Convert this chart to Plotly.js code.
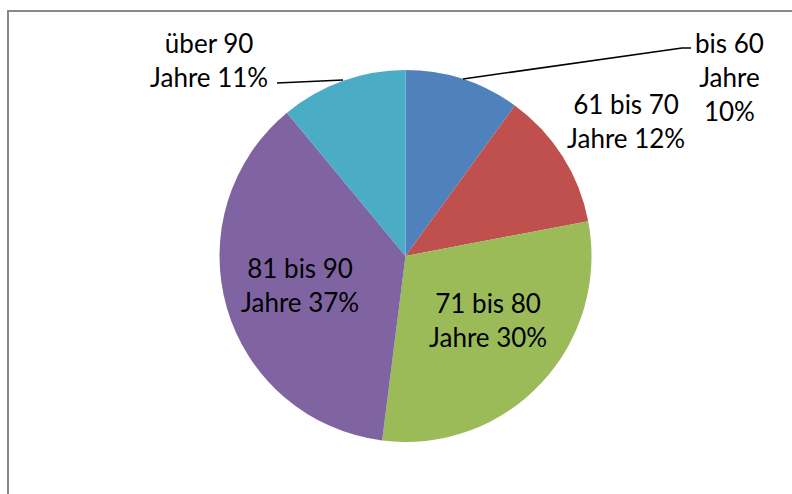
<!DOCTYPE html>
<html>
<head>
<meta charset="utf-8">
<script src="https://cdn.plot.ly/plotly-3.0.1.min.js"></script>
<style>html,body{margin:0;padding:0;background:#fff;}#chart{width:792px;height:494px;}</style>
</head>
<body>
<div id="chart"></div>
<script>
// Data
var ageGroups = ["bis 60", "61 bis 70", "71 bis 80", "81 bis 90", "über 90"];
var shares = [10, 12, 30, 37, 11];
var sliceColors = ["#4F81BD", "#C0504D", "#9BBB59", "#8064A2", "#4BACC6"];

var W = 792, H = 494;
function px(x) { return x / W; }
function py(y) { return 1 - y / H; }

// label positions (pixels) — layout only
var labelPos = [[729, 77], [626, 121], [488, 320], [300, 285], [209, 60]];
var labelText = ageGroups.map(function (g, i) {
  if (i === 0) return g + "<br>Jahre<br>" + shares[i] + "%";
  return g + "<br>Jahre " + shares[i] + "%";
});

var cx = 405.5, cy = 256, r = 186;
var trace = {
  type: "pie",
  labels: ageGroups,
  values: shares,
  sort: false,
  direction: "clockwise",
  rotation: 0,
  textinfo: "none",
  hoverinfo: "none",
  marker: { colors: sliceColors, line: { width: 0 } },
  domain: { x: [px(cx - r), px(cx + r)], y: [py(cy + r), py(cy - r)] },
  showlegend: false
};

var annotations = labelText.map(function (t, i) {
  return {
    text: t, xref: "paper", yref: "paper",
    x: px(labelPos[i][0]), y: py(labelPos[i][1]),
    xanchor: "center", yanchor: "middle", align: "center",
    showarrow: false,
    font: { family: "Lato, 'Open Sans', sans-serif", size: 26, color: "#000" }
  };
});

var shapes = [
  // frame
  { type: "path", xref: "paper", yref: "paper",
    path: "M " + px(8) + " " + py(494) + " L " + px(8) + " " + py(11) + " L " + px(792) + " " + py(11),
    line: { color: "#888888", width: 2 } },
  // leader for bis 60
  { type: "path", xref: "paper", yref: "paper",
    path: "M " + px(463) + " " + py(79) + " L " + px(682) + " " + py(48) + " L " + px(691) + " " + py(48),
    line: { color: "#000", width: 1.5 } },
  // leader for über 90
  { type: "path", xref: "paper", yref: "paper",
    path: "M " + px(277) + " " + py(83) + " L " + px(343) + " " + py(80),
    line: { color: "#000", width: 1.5 } }
];

var layout = {
  width: W, height: H,
  margin: { l: 0, r: 0, t: 0, b: 0 },
  paper_bgcolor: "#fff",
  plot_bgcolor: "#fff",
  annotations: annotations,
  shapes: shapes,
  showlegend: false
};

Plotly.newPlot("chart", [trace], layout, { displayModeBar: false, staticPlot: true });
</script>
</body>
</html>
